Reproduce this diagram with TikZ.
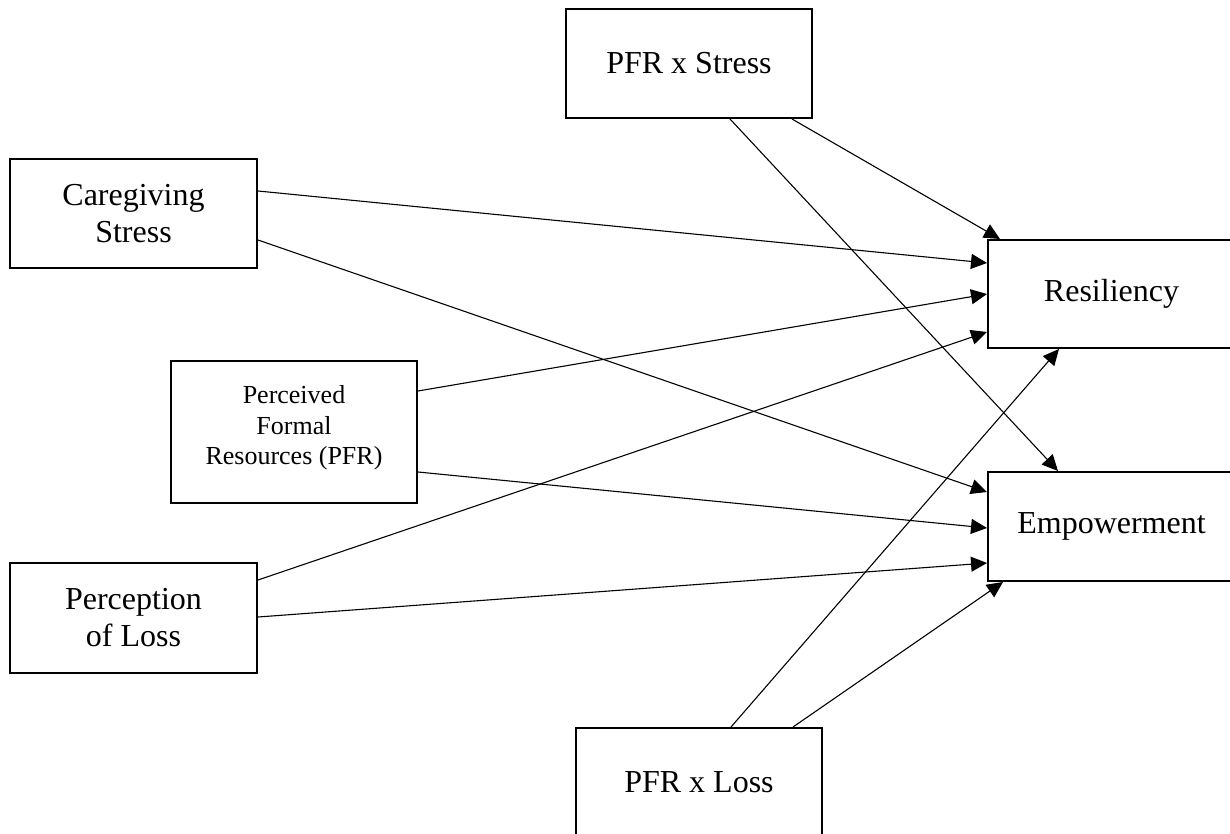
\documentclass[tikz,border=0pt]{standalone}
\usepackage{fontspec}
\setmainfont{Liberation Serif}
\usetikzlibrary{arrows.meta}
\begin{document}
\begin{tikzpicture}[x=1pt,y=-1pt,
  box/.style={draw, line width=2pt, rectangle, inner sep=0pt, minimum width=247pt, minimum height=109pt, align=center, font=\fontsize{32}{37}\selectfont},
  smalltext/.style={inner sep=0pt, align=center, font=\fontsize{26}{30.5}\selectfont},
  link/.style={line width=1.1pt, -{Triangle[length=16pt,width=15pt]}}]
\useasboundingbox (0,0) rectangle (1230,834);
\clip (0,0) rectangle (1230,834);
\node[box] (cg) at (133.5,213.5) {Caregiving\\Stress};
\node[box, minimum width=246pt, minimum height=142pt] (pfr) at (294,432) {};
\node[smalltext] (pfrtext) at (294,428) {Perceived\\Formal\\Resources (PFR)};
\node[box, minimum height=110pt] (pl) at (133.5,618) {Perception\\of Loss};
\node[box, minimum height=108pt] (res) at (1111.5,294) {Resiliency};
\node[box] (emp) at (1111.5,526.5) {Empowerment};
\node[box, minimum width=246pt] (pxs) at (689,63.5) {PFR x Stress};
\node[box, minimum width=246pt] (pxl) at (699,782.5) {PFR x Loss};
\draw[link] ([yshift=22.5pt]cg.east) -- ([yshift=31pt]res.west);
\draw[link] ([yshift=-26.5pt]cg.east) -- ([yshift=34.5pt]emp.west);
\draw[link] ([yshift=41pt]pfr.east) -- ([yshift=0pt]res.west);
\draw[link] ([yshift=-40pt]pfr.east) -- ([yshift=-1.5pt]emp.west);
\draw[link] ([yshift=38pt]pl.east) -- ([yshift=-38pt]res.west);
\draw[link] ([yshift=1pt]pl.east) -- ([yshift=-36.5pt]emp.west);
\draw[link] ([xshift=103pt]pxs.south) -- ([xshift=-111.5pt]res.north);
\draw[link] ([xshift=41pt]pxs.south) -- ([xshift=-53.5pt]emp.north);
\draw[link] ([xshift=32pt]pxl.north) -- ([xshift=-52.5pt]res.south);
\draw[link] ([xshift=94pt]pxl.north) -- ([xshift=-108.5pt]emp.south);
\end{tikzpicture}
\end{document}
